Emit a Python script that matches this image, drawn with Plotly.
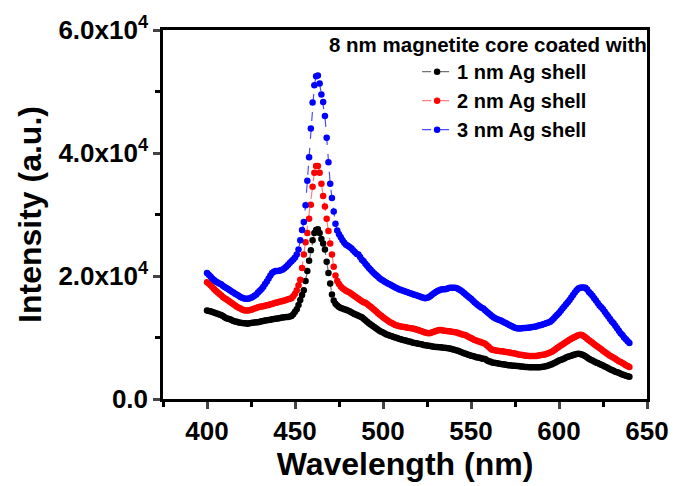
import plotly.graph_objects as go

wavelength = list(range(400, 641))

black_1nm = [
    14400, 14300, 14250, 14150, 14050, 13950, 13850, 13750, 13650, 13500,
    13300, 13150, 13050, 12950, 12850, 12700, 12600, 12550, 12450, 12400,
    12350, 12300, 12300, 12250, 12300, 12350, 12400, 12450, 12500, 12500,
    12550, 12650, 12700, 12750, 12800, 12850, 12900, 12950, 13000, 13050,
    13100, 13150, 13200, 13250, 13300, 13350, 13350, 13400, 13500, 13800,
    14200, 14600, 15300, 16100, 16900, 17700, 19200, 20800, 22500, 24200,
    25800, 27000, 27500, 27600, 27000, 26000, 25300, 24300, 22300, 20500,
    18800, 17000, 16000, 15500, 15200, 14950, 14800, 14700, 14600, 14500,
    14400, 14250, 14100, 13950, 13800, 13700, 13550, 13400, 13300, 13050,
    12800, 12550, 12300, 12100, 11900, 11700, 11500, 11300, 11100, 10950,
    10800, 10650, 10500, 10400, 10300, 10200, 10100, 10000, 9900, 9800,
    9700, 9650, 9550, 9500, 9400, 9350, 9250, 9150, 9100, 9050,
    9000, 8950, 8900, 8800, 8750, 8700, 8650, 8600, 8550, 8500,
    8450, 8450, 8400, 8400, 8350, 8350, 8300, 8250, 8200, 8150,
    8050, 7950, 7900, 7800, 7700, 7550, 7450, 7350, 7250, 7150,
    7050, 7000, 6900, 6800, 6750, 6700, 6600, 6550, 6500, 6300,
    6150, 6100, 5950, 5900, 5850, 5800, 5750, 5700, 5650, 5600,
    5550, 5500, 5480, 5450, 5420, 5400, 5380, 5350, 5300, 5280,
    5250, 5220, 5200, 5180, 5160, 5150, 5150, 5150, 5150, 5180,
    5200, 5250, 5300, 5350, 5450, 5550, 5650, 5800, 5950, 6100,
    6250, 6350, 6450, 6600, 6750, 6850, 6950, 7050, 7150, 7250,
    7300, 7350, 7300, 7250, 7100, 6950, 6750, 6550, 6400, 6250,
    6100, 5950, 5850, 5700, 5550, 5450, 5300, 5150, 5000, 4850,
    4700, 4600, 4450, 4350, 4250, 4100, 4000, 3900, 3800, 3700, 3600,
]

red_2nm = [
    19000, 18800, 18500, 18200, 17900, 17600, 17350, 17100, 16850, 16600,
    16400, 16200, 16000, 15800, 15600, 15400, 15200, 15000, 14850, 14700,
    14550, 14450, 14400, 14400, 14450, 14500, 14600, 14700, 14800, 14900,
    15000, 15050, 15100, 15150, 15250, 15300, 15400, 15450, 15550, 15650,
    15700, 15800, 15850, 15950, 16000, 16100, 16200, 16300, 16400, 16700,
    17100, 17700, 18500, 19400, 21300, 23500, 25500, 27000, 29300, 31600,
    34500, 36800, 37900, 37900, 36800, 35000, 33000, 31300, 29300, 27300,
    25300, 23500, 21500, 20100, 19200, 18700, 18300, 18000, 17800, 17600,
    17450, 17300, 17100, 16900, 16700, 16500, 16300, 16100, 15900, 15750,
    15650, 15450, 15200, 15000, 14750, 14500, 14250, 14000, 13750, 13550,
    13300, 13100, 12900, 12700, 12500, 12350, 12200, 12050, 11950, 11850,
    11800, 11750, 11700, 11650, 11600, 11550, 11500, 11450, 11400, 11300,
    11200, 11100, 11000, 10900, 10800, 10750, 10700, 10750, 10850, 10950,
    11050, 11150, 11200, 11200, 11150, 11100, 11050, 11000, 11000, 10950,
    10900, 10850, 10800, 10700, 10600, 10500, 10450, 10350, 10200, 10050,
    9900, 9750, 9600, 9500, 9400, 9300, 9200, 9100, 9000, 8750,
    8500, 8200, 8000, 7950, 7900, 7850, 7800, 7780, 7750, 7700,
    7650, 7600, 7550, 7500, 7450, 7400, 7300, 7250, 7200, 7150,
    7100, 7050, 7050, 7000, 7000, 7000, 7000, 7000, 7050, 7100,
    7150, 7200, 7250, 7350, 7450, 7550, 7700, 7900, 8100, 8300,
    8500, 8700, 8850, 9050, 9250, 9450, 9650, 9800, 9950, 10100,
    10250, 10350, 10450, 10400, 10250, 10050, 9800, 9550, 9350, 9150,
    8900, 8700, 8500, 8300, 8100, 7850, 7650, 7450, 7250, 7050,
    6850, 6700, 6550, 6350, 6150, 6000, 5850, 5700, 5500, 5350, 5200,
]

blue_3nm = [
    20500, 20200, 19900, 19600, 19350, 19100, 18950, 18800, 18650, 18400,
    18200, 18050, 17900, 17700, 17500, 17300, 17100, 16950, 16800, 16600,
    16450, 16350, 16300, 16300, 16350, 16450, 16600, 16800, 17000, 17300,
    17600, 17900, 18250, 18700, 19100, 19600, 20100, 20500, 20700, 20800,
    20800, 20850, 20950, 21050, 21250, 21500, 21800, 22100, 22400, 22700,
    23000, 23500, 24300, 25800, 27500, 28800, 31500, 35500, 39300, 44000,
    48200, 51000, 52500, 52600, 51300, 49500, 48300, 46000, 42500, 38500,
    35000, 32700, 30500, 28500, 27400, 26800, 26300, 25800, 25400, 25100,
    24900, 24700, 24500, 24200, 23900, 23600, 23500, 23100, 22650, 22400,
    22000, 21650, 21300, 21000, 20700, 20400, 20150, 19900, 19650, 19450,
    19250, 19050, 18900, 18750, 18600, 18450, 18300, 18150, 18000, 17850,
    17750, 17650, 17550, 17450, 17350, 17250, 17150, 17050, 16950, 16850,
    16750, 16650, 16550, 16450, 16400, 16450, 16550, 16750, 17000, 17200,
    17400, 17550, 17700, 17800, 17850, 17850, 17900, 18000, 18100, 18100,
    18100, 18100, 18000, 17850, 17700, 17500, 17250, 17000, 16750, 16500,
    16300, 16000, 15750, 15500, 15250, 15050, 14850, 14700, 14450, 14200,
    13950, 13700, 13450, 13250, 13100, 12950, 12850, 12750, 12600, 12450,
    12300, 12150, 12000, 11850, 11700, 11600, 11500, 11450, 11450, 11500,
    11550, 11550, 11600, 11600, 11650, 11700, 11750, 11800, 11900, 12000,
    12050, 12150, 12250, 12350, 12450, 12550, 12800, 13100, 13400, 13700,
    14000, 14350, 14700, 15050, 15400, 15750, 16100, 16500, 16900, 17300,
    17700, 17950, 18100, 18150, 18150, 18100, 17800, 17400, 17100, 16800,
    16400, 16000, 15600, 15200, 14900, 14600, 14200, 13800, 13400, 13000,
    12600, 12300, 11900, 11500, 11100, 10700, 10400, 10000, 9700, 9400, 9100,
]

series_names = ["1 nm Ag shell", "2 nm Ag shell", "3 nm Ag shell"]
marker_colors = ["#000000", "#ff0000", "#0000ff"]
line_colors = ["rgba(0,0,0,0.55)", "rgba(255,0,0,0.5)", "rgba(0,0,255,0.7)"]

y_tickvals = [0, 20000, 40000, 60000]
y_ticktext = ["0.0", "2.0x10<sup>4</sup>", "4.0x10<sup>4</sup>", "6.0x10<sup>4</sup>"]
x_tickvals = [400, 450, 500, 550, 600, 650]

legend_title = "8 nm magnetite core coated with"

FONT = "Liberation Sans, Arial, sans-serif"

fig = go.Figure()
for name, ys, mc, lc in zip(series_names, [black_1nm, red_2nm, blue_3nm], marker_colors, line_colors):
    fig.add_trace(go.Scatter(
        x=wavelength, y=ys, name=name, mode="lines+markers",
        marker=dict(size=6.5, color=mc, line=dict(width=0)),
        line=dict(color=lc, width=1.2, dash="dash"),
    ))

fig.update_layout(
    width=681, height=486,
    margin=dict(l=163, r=26, t=24, b=84),
    paper_bgcolor="white", plot_bgcolor="white",
    font=dict(family=FONT, color="black"),
    showlegend=True,
    legend=dict(
        x=0.525, y=0.94, xanchor="left", yanchor="top",
        font=dict(size=20, family=FONT, color="black", weight="bold"),
        bgcolor="rgba(0,0,0,0)", tracegroupgap=0,
    ),
    annotations=[dict(
        text="<b>" + legend_title + "</b>", xref="paper", yref="paper",
        x=1.004, y=0.96, xanchor="right", yanchor="middle", showarrow=False,
        font=dict(size=20.5, family=FONT, color="black"),
    )],
)

fig.update_xaxes(
    range=[375, 650], tickvals=x_tickvals, ticks="outside", ticklen=7, tickwidth=2.5,
    showline=True, linewidth=2.5, linecolor="black", mirror=True, showgrid=False, zeroline=False,
    tickfont=dict(size=26, family=FONT, color="black", weight="bold"),
    minor=dict(tickvals=[375, 425, 475, 525, 575, 625], ticks="outside", ticklen=5, tickwidth=2.5, tickcolor="black", showgrid=False),
    title=dict(text="<b>Wavelength (nm)</b>", font=dict(size=32, family=FONT, color="black"), standoff=6),
)
fig.update_yaxes(
    range=[0, 60000], tickvals=y_tickvals, ticktext=y_ticktext, ticks="outside", ticklen=7, tickwidth=2.5,
    showline=True, linewidth=2.5, linecolor="black", mirror=True, showgrid=False, zeroline=False,
    tickfont=dict(size=26, family=FONT, color="black", weight="bold"),
    minor=dict(tickvals=[10000, 30000, 50000], ticks="outside", ticklen=5, tickwidth=2.5, tickcolor="black", showgrid=False),
    title=dict(text="<b>Intensity (a.u.)</b>", font=dict(size=32, family=FONT, color="black"), standoff=8),
)

fig.write_html("out.html")
